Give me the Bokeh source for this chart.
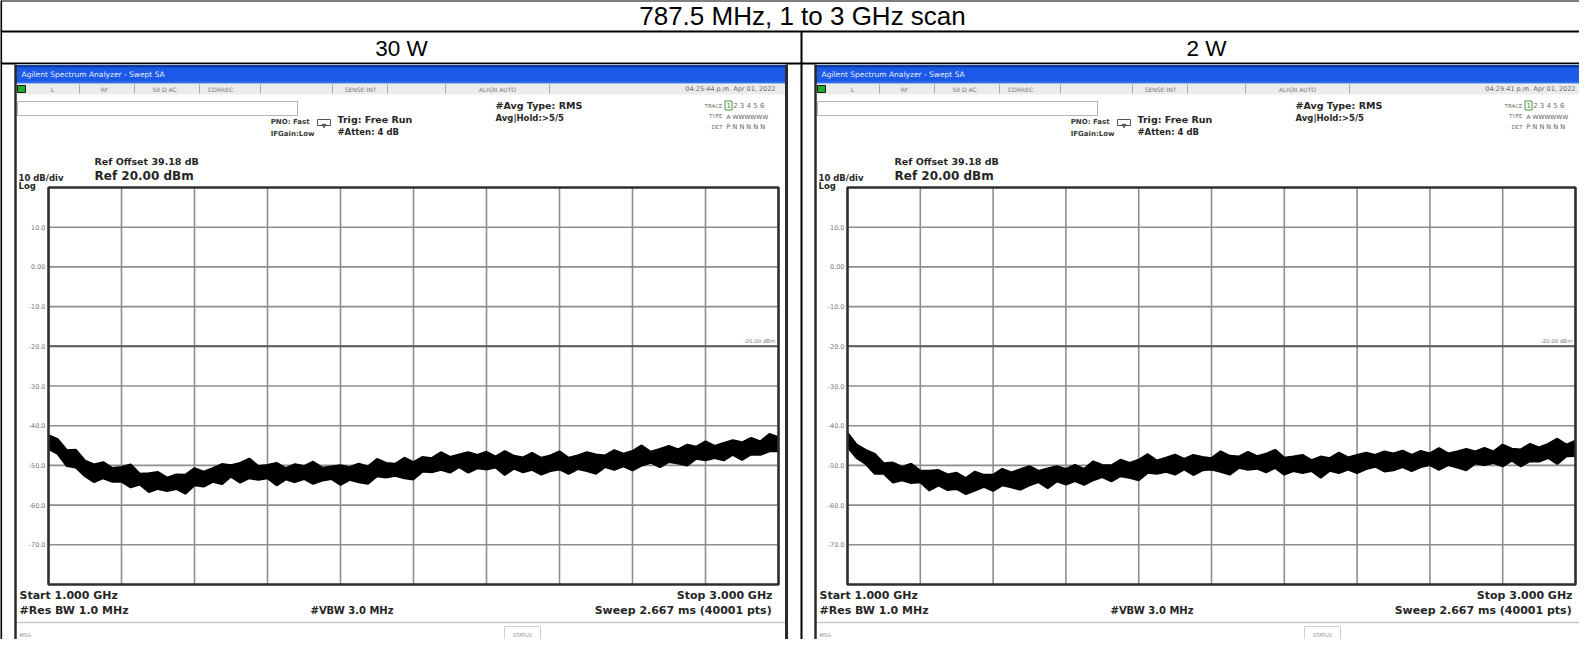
import numpy as np
from bokeh.plotting import figure
from bokeh.models import Range1d
from bokeh.embed import file_html
from bokeh.resources import INLINE
from bokeh.core.properties import value

# ---------------- data ----------------
scan_title = "787.5 MHz, 1 to 3 GHz scan"
columns = ["30 W", "2 W"]
timestamps = ["04:25:44 p.m. Apr 01, 2022", "04:29:41 p.m. Apr 01, 2022"]

freq_start, freq_stop = 1.0, 3.0           # GHz
ref_level, bottom_level = 20.0, -80.0      # dBm
display_line = -20.0
ghz_ticks = [1.2, 1.4, 1.6, 1.8, 2.0, 2.2, 2.4, 2.6, 2.8]
db_ticks = [10, 0, -10, -20, -30, -40, -50, -60, -70]
db_labels = ["10.0", "0.00", "-10.0", "-20.0", "-30.0", "-40.0", "-50.0", "-60.0", "-70.0"]

freq_ghz = np.linspace(freq_start, freq_stop, 81)

upper_30w = [-42.4, -43.4, -46.2, -46.1, -48.8, -49.8, -49.2, -50.7, -50.4, -49.8, -52.1, -52.0, -51.7, -53.1, -52.3, -52.4, -50.7, -51.6, -50.7, -49.7,
             -50.0, -49.4, -48.3, -50.2, -49.9, -49.4, -50.7, -49.7, -50.2, -49.1, -50.6, -50.3, -50.0, -50.5, -49.6, -50.3, -48.4, -49.4, -49.6, -48.1,
             -49.2, -47.9, -48.2, -46.7, -47.9, -47.3, -46.7, -47.4, -46.6, -47.8, -46.4, -47.6, -48.0, -46.9, -48.1, -47.5, -46.5, -48.1, -47.5, -46.7,
             -47.3, -47.5, -46.2, -47.1, -46.4, -45.0, -46.6, -45.9, -45.1, -46.0, -44.8, -45.3, -44.0, -45.1, -44.4, -43.7, -44.2, -43.1, -44.0, -42.1,
             -42.9]
lower_30w = [-45.8, -47.1, -50.1, -50.5, -52.7, -54.2, -53.2, -54.1, -54.1, -55.5, -54.8, -56.7, -55.9, -56.4, -55.9, -57.1, -55.0, -55.3, -54.1, -54.7,
             -52.8, -54.3, -53.2, -53.6, -53.2, -55.0, -53.5, -54.2, -53.4, -54.6, -53.8, -53.4, -54.9, -53.6, -54.2, -54.6, -52.7, -53.0, -52.6, -53.2,
             -53.5, -51.5, -51.7, -51.1, -51.8, -50.4, -51.8, -50.7, -51.0, -50.5, -52.4, -50.8, -51.7, -51.1, -52.3, -51.4, -51.0, -52.1, -50.9, -51.4,
             -52.1, -50.4, -51.1, -50.2, -51.2, -50.0, -49.3, -50.4, -49.1, -49.5, -50.0, -48.3, -48.7, -48.1, -48.7, -47.3, -48.6, -47.2, -47.3, -46.4,
             -46.4]
upper_2w = [-41.8, -44.8, -46.1, -47.1, -49.5, -49.3, -50.4, -49.6, -51.4, -51.4, -51.2, -52.3, -51.9, -53.2, -51.6, -52.4, -52.4, -50.9, -51.8, -51.0,
            -50.2, -51.4, -50.8, -50.2, -50.9, -49.9, -50.9, -49.0, -49.9, -50.0, -48.6, -49.4, -48.6, -47.2, -48.8, -48.1, -47.3, -48.4, -47.4, -47.9,
            -48.2, -46.5, -47.6, -47.8, -46.6, -47.7, -47.1, -46.1, -48.1, -47.8, -47.4, -48.7, -47.8, -48.2, -46.8, -48.0, -47.4, -46.8, -47.4, -46.5,
            -47.0, -46.3, -47.4, -46.4, -47.0, -45.7, -47.0, -46.5, -45.9, -46.5, -45.6, -46.5, -44.8, -45.8, -46.0, -44.6, -45.5, -44.6, -43.3, -44.8,
            -43.8]
lower_2w = [-45.4, -48.1, -49.6, -52.1, -52.1, -54.3, -53.7, -54.4, -54.2, -56.3, -55.0, -56.2, -55.9, -57.2, -56.3, -55.4, -56.4, -55.0, -55.5, -56.1,
            -55.0, -54.2, -55.7, -54.0, -54.8, -53.9, -54.9, -53.7, -52.9, -54.0, -52.7, -53.1, -53.7, -51.8, -52.1, -51.6, -52.3, -51.0, -52.4, -51.2,
            -51.0, -51.6, -52.3, -50.6, -51.1, -50.8, -51.7, -50.6, -52.3, -51.4, -51.9, -51.4, -53.1, -51.3, -51.9, -51.0, -51.9, -50.9, -50.3, -51.5,
            -51.2, -50.4, -51.4, -50.4, -49.9, -51.1, -49.9, -50.5, -51.2, -49.5, -49.9, -49.4, -50.2, -48.8, -50.2, -48.9, -49.0, -48.1, -49.6, -47.7,
            -47.6]

status_cells = ["L", "RF", "50 Ω  AC", "CORREC", "SENSE:INT", "ALIGN AUTO"]
ref_offset_text = "Ref Offset 39.18 dB"
ref_text = "Ref 20.00 dBm"
scale_text = "10 dB/div"
bottom_left = ["Start 1.000 GHz", "#Res BW 1.0 MHz"]
bottom_mid = "#VBW 3.0 MHz"
bottom_right = ["Stop 3.000 GHz", "Sweep  2.667 ms (40001 pts)"]

# ---------------- layout (page pixels) ----------------
W, H = 1579, 639
X0, X1 = 8, 8 + W
Y0, Y1 = 8, 8 + H

p = figure(width=W, height=H, output_backend="svg", toolbar_location=None,
           x_range=Range1d(X0, X1), y_range=Range1d(Y1, Y0),
           x_axis_type=None, y_axis_type=None, min_border=0)
p.outline_line_color = None
p.grid.visible = False
p.background_fill_color = "white"
p.border_fill_color = "white"

TXT = "#262626"


def txt(x, y, s, size, color=TXT, align="left", bold=True, font="DejaVu Sans", **kw):
    p.text(x=[x], y=[y], text=[s], text_font=value(font), text_font_size=f"{size}px",
           text_font_style="bold" if bold else "normal", text_color=color,
           text_align=align, text_baseline="middle", **kw)


# ---------------- table frame ----------------
MID = 809
for yy in (8, 39, 71):
    p.segment(x0=[X0], y0=[yy], x1=[X1], y1=[yy], line_color="black", line_width=2.2)
p.segment(x0=[8.5], y0=[Y0], x1=[8.5], y1=[Y1], line_color="black", line_width=2.2)
p.segment(x0=[MID], y0=[39], x1=[MID], y1=[Y1], line_color="black", line_width=2)

txt(MID + 1, 23.5, scan_title, 26, color="black", align="center", bold=False, font="Liberation Sans")
txt(409, 55.5, columns[0], 22.5, color="black", align="center", bold=False, font="Liberation Sans")
txt(1214, 55.5, columns[1], 22.5, color="black", align="center", bold=False, font="Liberation Sans")


# ---------------- analyzer panels ----------------
def panel(x0, x1, gx0, gx1, gy0, gy1, upper, lower, stamp, xr):
    # scales for the trace area
    s = (freq_stop - freq_start) / (gx1 - gx0)
    k = (ref_level - bottom_level) / (gy1 - gy0)
    xranges = dict(p.extra_x_ranges)
    xranges[xr] = Range1d(freq_start - (gx0 - X0) * s, freq_stop + (X1 - gx1) * s)
    p.extra_x_ranges = xranges
    yranges = dict(p.extra_y_ranges)
    yranges["db"] = Range1d(bottom_level - (Y1 - gy1) * k, ref_level + (gy0 - Y0) * k)
    p.extra_y_ranges = yranges

    # window chrome
    p.quad(left=[x0], right=[x1], top=[72], bottom=[Y1 + 5], fill_color="white", line_color=None)
    p.quad(left=[x0], right=[x1], top=[72.5], bottom=[91], fill_color="#1a5ae6", line_color=None)
    p.quad(left=[x0], right=[x1], top=[72.5], bottom=[75], fill_color="#0d3ea8", line_color=None)
    p.quad(left=[x0], right=[x1], top=[89], bottom=[91], fill_color="#2f6fe8", line_color=None)
    txt(x0 + 6, 82, "Agilent Spectrum Analyzer - Swept SA", 7.5, color="#e8eeff", bold=False)
    p.quad(left=[x0], right=[x1], top=[91], bottom=[102], fill_color="#ececec", line_color=None)
    p.quad(left=[x0 + 2], right=[x0 + 10], top=[93], bottom=[100], fill_color="#1fae2a", line_color="#111111", line_width=1)
    for sx in (64, 119, 184, 245, 317, 372, 430, 534):
        p.segment(x0=[x0 + sx], y0=[92], x1=[x0 + sx], y1=[101], line_color="#a8a8a8", line_width=1)
    for lab, cx in zip(status_cells, [37, 89, 150, 205, 345, 482]):
        txt(x0 + cx, 96.5, lab, 6, color="#7a7a7a", align="center", bold=False)
    txt(x1 - 11, 96.5, stamp, 6.5, color="#6a6a6a", align="right", bold=False)

    p.quad(left=[x0 + 2], right=[x0 + 282], top=[109], bottom=[123], fill_color="white", line_color="#b4b4b4", line_width=1)
    txt(x0 + 294, 129, "PNO: Fast", 7, color="#3a3a3a", align="right")
    txt(x0 + 299, 141, "IFGain:Low", 7, color="#3a3a3a", align="right")
    p.quad(left=[x0 + 302], right=[x0 + 315], top=[127], bottom=[133], fill_color=None, line_color="#555555", line_width=1)
    p.scatter(x=[x0 + 308.5], y=[133], marker="inverted_triangle", size=4, color="#555555")
    txt(x0 + 322, 127, "Trig: Free Run", 9.5, color=TXT)
    txt(x0 + 322, 139.5, "#Atten: 4 dB", 8.5, color=TXT)
    txt(x0 + 480, 113, "#Avg Type: RMS", 9.5, color=TXT)
    txt(x0 + 480, 125.5, "Avg|Hold:>5/5", 8.5, color=TXT)

    txt(x1 - 64, 113, "TRACE", 5.5, color="#6a6a6a", align="right", bold=False)
    txt(x1 - 60, 113, "1 2 3 4 5 6", 7, color="#6a6a6a", bold=False)
    p.quad(left=[x1 - 61.5], right=[x1 - 54.5], top=[108.5], bottom=[117.5], fill_color=None, line_color="#3aa03a", line_width=1)
    txt(x1 - 64, 123.5, "TYPE", 5.5, color="#6a6a6a", align="right", bold=False)
    txt(x1 - 60, 123.5, "A WWWWWW", 6, color="#5a5a5a", bold=False)
    txt(x1 - 64, 134.5, "DET", 5.5, color="#6a6a6a", align="right", bold=False)
    txt(x1 - 60, 134.5, "P N N N N N", 6.5, color="#5a5a5a", bold=False)

    txt(x0 + 79, 169, ref_offset_text, 9.5, color=TXT)
    txt(x0 + 79, 183, ref_text, 12, color=TXT)
    txt(x0 + 3, 185, scale_text, 8.5, color=TXT)
    txt(x0 + 3, 193.5, "Log", 8.5, color=TXT)

    # grid in data coordinates
    p.segment(x0=[freq_start] * len(db_ticks), y0=db_ticks, x1=[freq_stop] * len(db_ticks), y1=db_ticks,
              line_color="#8e8e8e", line_width=1.6, x_range_name=xr, y_range_name="db")
    p.segment(x0=ghz_ticks, y0=[bottom_level] * len(ghz_ticks), x1=ghz_ticks, y1=[ref_level] * len(ghz_ticks),
              line_color="#8e8e8e", line_width=1.6, x_range_name=xr, y_range_name="db")
    p.segment(x0=[freq_start], y0=[display_line], x1=[freq_stop], y1=[display_line],
              line_color="#5a5a5a", line_width=2, x_range_name=xr, y_range_name="db")
    p.text(x=[freq_start] * len(db_ticks), y=db_ticks, text=db_labels, x_offset=-3,
           text_font=value("DejaVu Sans"), text_font_size="6.5px", text_color="#7a7a7a",
           text_align="right", text_baseline="middle", x_range_name=xr, y_range_name="db")
    p.text(x=[freq_stop], y=[display_line], text=["-20.00 dBm"], x_offset=-3, y_offset=-5,
           text_font=value("DejaVu Sans"), text_font_size="5.5px", text_color="#7a7a7a",
           text_align="right", text_baseline="middle", x_range_name=xr, y_range_name="db")

    # trace
    p.varea(x=freq_ghz, y1=lower, y2=upper, fill_color="black", x_range_name=xr, y_range_name="db")
    p.line(x=freq_ghz, y=upper, line_color="black", line_width=2.2, x_range_name=xr, y_range_name="db")
    p.line(x=freq_ghz, y=lower, line_color="black", line_width=2.2, x_range_name=xr, y_range_name="db")

    p.quad(left=[freq_start], right=[freq_stop], bottom=[bottom_level], top=[ref_level],
           fill_color=None, line_color="#2e2e2e", line_width=2.6, x_range_name=xr, y_range_name="db")

    # footer
    txt(x0 + 4, 603, bottom_left[0], 11, color=TXT)
    txt(x0 + 4, 618, bottom_left[1], 11, color=TXT)
    txt(x0 + 295, 618, bottom_mid, 10, color=TXT)
    txt(x1 - 14, 603, bottom_right[0], 11, color=TXT, align="right")
    txt(x1 - 11, 618, bottom_right[1], 11, color=TXT, align="right")
    p.segment(x0=[x0], y0=[630], x1=[x1], y1=[630], line_color="#c8c8c8", line_width=1.5)
    txt(x0 + 4, 642, "MSG", 5, color="#8a8a8a", bold=False)
    p.quad(left=[x0 + 489], right=[x0 + 525], top=[634], bottom=[650], fill_color=None, line_color="#d0d0d0", line_width=1)
    txt(x0 + 507, 642, "STATUS", 5, color="#8a8a8a", align="center", bold=False)

    # window border
    p.segment(x0=[x0], y0=[72], x1=[x0], y1=[Y1 + 5], line_color="#2a2a2a", line_width=2.5)
    p.segment(x0=[x1], y0=[72], x1=[x1], y1=[Y1 + 5], line_color="#2a2a2a", line_width=3)


panel(23, 794, 56, 786, 195, 592, upper_30w, lower_30w, timestamps[0], "ghz_l")
panel(823, 1594, 855, 1583, 195, 592, upper_2w, lower_2w, timestamps[1], "ghz_r")

open("out.html", "w").write(file_html(p, INLINE))
